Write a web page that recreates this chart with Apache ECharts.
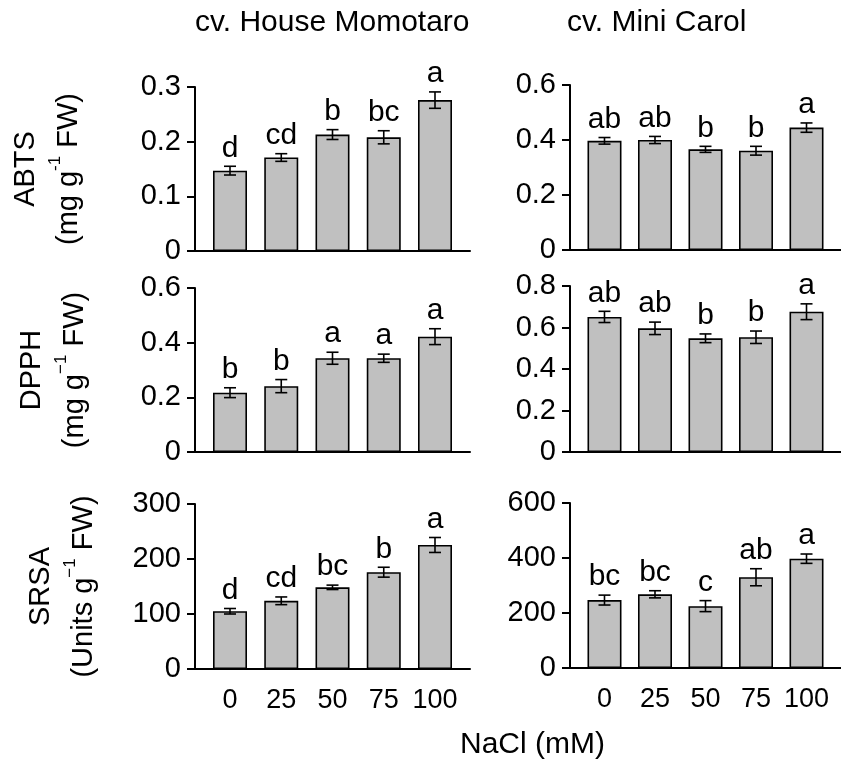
<!DOCTYPE html>
<html>
<head>
<meta charset="utf-8">
<script src="https://cdn.jsdelivr.net/npm/echarts@6/dist/echarts.min.js"></script>
<style>
    html, body { margin: 0; padding: 0; background: #fff; }
    #main { width: 841px; height: 771px; }
</style>
</head>
<body>
<div id="main"></div>
<script>
// NaCl doses (x axis)
var doses = ['0', '25', '50', '75', '100'];

// ABTS, mg g-1 FW
var abtsHM = [0.147, 0.171, 0.213, 0.208, 0.276];
var abtsHMErr = [0.008, 0.007, 0.009, 0.012, 0.015];
var abtsHMSig = ['d', 'cd', 'b', 'bc', 'a'];
var abtsMC = [0.397, 0.400, 0.366, 0.361, 0.445];
var abtsMCErr = [0.012, 0.013, 0.011, 0.016, 0.017];
var abtsMCSig = ['ab', 'ab', 'b', 'b', 'a'];

// DPPH, mg g-1 FW
var dpphHM = [0.217, 0.241, 0.343, 0.343, 0.422];
var dpphHMErr = [0.018, 0.024, 0.022, 0.015, 0.029];
var dpphHMSig = ['b', 'b', 'a', 'a', 'a'];
var dpphMC = [0.651, 0.596, 0.548, 0.553, 0.676];
var dpphMCErr = [0.027, 0.030, 0.021, 0.030, 0.038];
var dpphMCSig = ['ab', 'ab', 'b', 'b', 'a'];

// SRSA, units g-1 FW
var srsaHM = [105, 124, 148.5, 176, 225.5];
var srsaHMErr = [5, 7, 4, 9, 13.6];
var srsaHMSig = ['d', 'cd', 'bc', 'b', 'a'];
var srsaMC = [247, 268, 225, 330, 397.5];
var srsaMCErr = [18, 13, 20, 31, 17];
var srsaMCSig = ['bc', 'bc', 'c', 'ab', 'a'];

// y axis ticks, one entry per panel (row by row, left then right)
var yMax = [0.3, 0.6, 0.6, 0.8, 300, 600];
var yStep = [0.1, 0.2, 0.2, 0.2, 100, 200];

var titles = ['cv. House Momotaro', 'cv. Mini Carol'];
var rowNames = [
    '{a|ABTS}\n{a|(mg g}{s|-1}{a| FW)}',
    '{a|DPPH}\n{a|(mg g}{s|\u22121}{a| FW)}',
    '{a|SRSA}\n{a|(Units g}{s|\u22121}{a| FW)}'
];

var FONT = 'Liberation Sans';

function errorBars(sig) {
    return function (params, api) {
        var x = api.value(0), y = api.value(1), e = api.value(2);
        var top = api.coord([x, y + e]);
        var bot = api.coord([x, y - e]);
        var cap = 6;
        var line = { stroke: '#000', lineWidth: 1.6 };
        return {
            type: 'group',
            children: [
                { type: 'line', shape: { x1: top[0], y1: top[1], x2: bot[0], y2: bot[1] }, style: line },
                { type: 'line', shape: { x1: top[0] - cap, y1: top[1], x2: top[0] + cap, y2: top[1] }, style: line },
                { type: 'line', shape: { x1: bot[0] - cap, y1: bot[1], x2: bot[0] + cap, y2: bot[1] }, style: line },
                {
                    type: 'text',
                    style: {
                        text: sig[params.dataIndex], x: top[0], y: top[1] - 3,
                        align: 'center', verticalAlign: 'bottom',
                        fontSize: 30, fontFamily: FONT, fill: '#000'
                    }
                }
            ]
        };
    };
}

function draw() {
    var chart = echarts.init(document.getElementById('main'));

    var panels = [
        { v: abtsHM, e: abtsHMErr, s: abtsHMSig },
        { v: abtsMC, e: abtsMCErr, s: abtsMCSig },
        { v: dpphHM, e: dpphHMErr, s: dpphHMSig },
        { v: dpphMC, e: dpphMCErr, s: dpphMCSig },
        { v: srsaHM, e: srsaHMErr, s: srsaHMSig },
        { v: srsaMC, e: srsaMCErr, s: srsaMCSig }
    ];

    var colLeft = [195, 570];
    var rowTop = [[87, 85], [288, 286], [504, 503]];
    var rowH = [[164, 165], [164, 166], [165, 165]];
    var nameGaps = [105, 99, 90];

    var grids = [], xAxes = [], yAxes = [], series = [];

    panels.forEach(function (p, i) {
        var row = Math.floor(i / 2), col = i % 2;
        grids.push({ left: colLeft[col], top: rowTop[row][col], width: 275, height: rowH[row][col] });

        xAxes.push({
            type: 'value', gridIndex: i, min: -0.683, max: 4.683,
            axisLine: { onZero: false, lineStyle: { color: '#000', width: 2 } },
            axisTick: { show: false },
            splitLine: { show: false },
            axisLabel: {
                show: row === 2,
                customValues: [0, 1, 2, 3, 4],
                formatter: function (v) { return doses[Math.round(v)]; },
                color: '#000', fontSize: 27, fontFamily: FONT, margin: 18
            }
        });

        var step = yStep[i];
        yAxes.push({
            type: 'value', gridIndex: i, min: 0, max: yMax[i], interval: step,
            axisLine: { show: true, onZero: false, lineStyle: { color: '#000', width: 2 } },
            axisTick: { show: true, length: 8, lineStyle: { color: '#000', width: 2 } },
            splitLine: { show: false },
            axisLabel: {
                color: '#000', fontSize: 29, fontFamily: FONT, margin: 14,
                formatter: function (v) {
                    if (v === 0) return '0';
                    return step < 1 ? v.toFixed(1) : String(Math.round(v));
                }
            },
            name: col === 0 ? rowNames[row] : '',
            nameLocation: 'middle',
            nameRotate: 90,
            nameGap: nameGaps[row],
            nameTextStyle: {
                rich: {
                    a: { fontSize: 29, fontFamily: FONT, color: '#000', lineHeight: 43 },
                    s: { fontSize: 17, fontFamily: FONT, color: '#000', lineHeight: 28, verticalAlign: 'top' }
                }
            }
        });

        series.push({
            type: 'bar', xAxisIndex: i, yAxisIndex: i,
            data: p.v.map(function (v, k) { return [k, v]; }),
            barWidth: 34,
            itemStyle: { color: '#c0c0c0', borderColor: '#000', borderWidth: 1.6 },
            silent: true
        });
        series.push({
            type: 'custom', xAxisIndex: i, yAxisIndex: i,
            data: p.v.map(function (v, k) { return [k, v, p.e[k]]; }),
            renderItem: errorBars(p.s),
            z: 5, silent: true
        });
    });

    var titleStyle = { fontSize: 30, fontWeight: 'normal', fontFamily: FONT, color: '#000' };
    var option = {
        animation: false,
        backgroundColor: '#fff',
        title: [
            { text: titles[0], left: 195, top: 8, padding: 0, textStyle: titleStyle },
            { text: titles[1], left: 567, top: 8, padding: 0, textStyle: titleStyle },
            { text: 'NaCl (mM)', left: 460, top: 730, padding: 0, textStyle: titleStyle }
        ],
        grid: grids,
        xAxis: xAxes,
        yAxis: yAxes,
        series: series
    };
    chart.setOption(option);
}

draw();
</script>
</body>
</html>
